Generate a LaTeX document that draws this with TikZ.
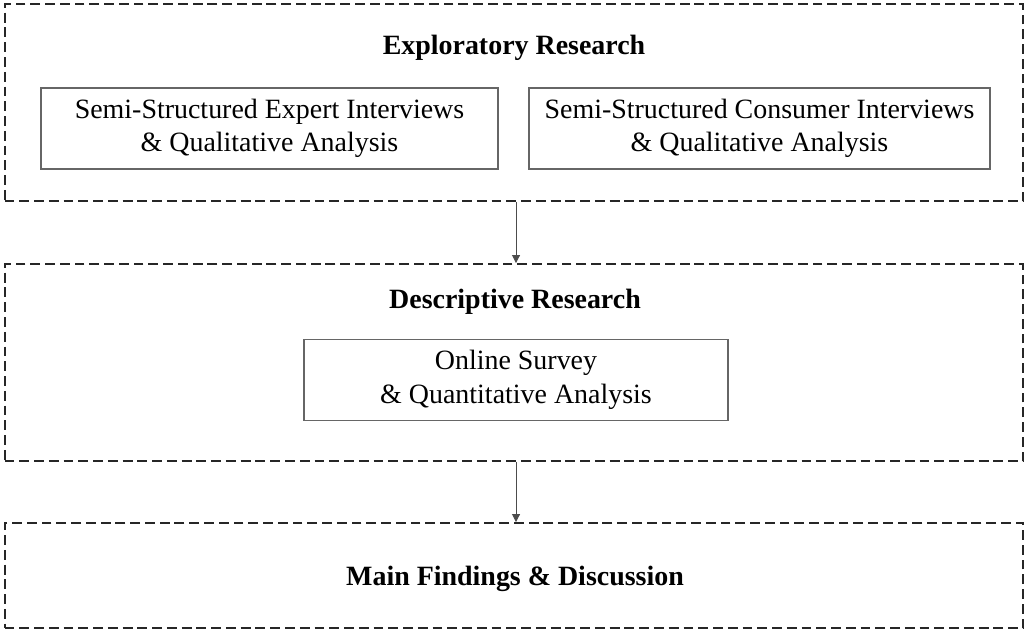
\documentclass[tikz,border=0pt]{standalone}
\usepackage{fontspec}
\setmainfont{Liberation Serif}
\usetikzlibrary{arrows.meta}

\begin{document}
\begin{tikzpicture}[x=0.02cm,y=-0.02cm,
	stage/.style={draw=black!85, dashed, line width=1.1pt, dash pattern=on 5.6pt off 2.8pt, minimum width=20.38cm},
	task/.style={draw=black!60, line width=0.8pt, align=center, minimum width=9.14cm, minimum height=1.62cm, font=\fontsize{15.9}{19}\selectfont},
	title/.style={font=\fontsize{15.9}{18}\selectfont\bfseries},
	flow/.style={draw=black!70, line width=0.5pt, -{Triangle[length=4.5pt,width=4.5pt]}}]
	\useasboundingbox (0,0) rectangle (1026,631);
	% stages
	\node[stage, minimum height=3.94cm] (explo) at (514,102.5) {};
	\node[stage, minimum height=3.94cm] (descr) at (514,362.5) {};
	\node[stage, minimum height=2.10cm] (main) at (514,575.5) {};
	% titles
	\node[title] (exploT) at (514,48) {Exploratory Research};
	\node[title] (descrT) at (515,302) {Descriptive Research};
	\node[title] (mainT) at (515,579) {Main Findings \& Discussion};
	% methods
	\node[task] (expert) at (269.5,128.5) {Semi-Structured Expert Interviews\\\& Qualitative Analysis};
	\node[task, minimum width=9.22cm] (consumer) at (759.5,128.5) {Semi-Structured Consumer Interviews\\\& Qualitative Analysis};
	\node[task, minimum width=8.48cm] (survey) at (516,380) {Online Survey\\\& Quantitative Analysis};
	% flow
	\draw[flow] ([xshift=0.04cm]explo.south) -- ([xshift=0.04cm]descr.north);
	\draw[flow] ([xshift=0.04cm]descr.south) -- ([xshift=0.04cm]main.north);
\end{tikzpicture}
\end{document}
